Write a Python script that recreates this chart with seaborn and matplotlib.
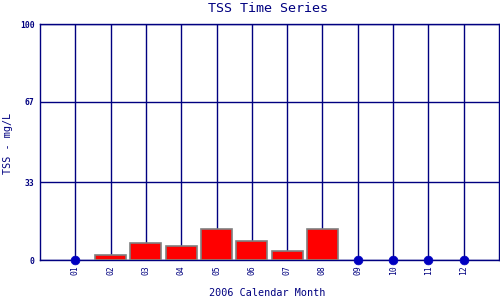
import matplotlib
matplotlib.use("Agg")
import matplotlib.pyplot as plt
import seaborn as sns
import pandas as pd

months = [2, 3, 4, 5, 6, 7, 8]
tss = [2.1, 7.0, 5.9, 13.0, 7.9, 3.7, 13.0]
zero_months = [1, 9, 10, 11, 12]
zero_vals = [0, 0, 0, 0, 0]
tick_labels = ["01", "02", "03", "04", "05", "06", "07", "08", "09", "10", "11", "12"]
y_ticks = [0, 33, 67, 100]

navy = "#000080"
sns.set_style("white")
plt.rcParams['font.family'] = ['DejaVu Sans Mono', 'DejaVu Sans']

fig = plt.figure(figsize=(5, 3), dpi=100)
ax = fig.add_axes([0.08, 0.1333, 0.918, 0.7867])

bars = pd.DataFrame({"month": months, "tss": tss})
sns.barplot(data=bars, x="month", y="tss", native_scale=True, width=0.88,
            color="#ff0000", saturation=1, edgecolor="#808080", linewidth=1.2,
            ax=ax, zorder=3)
zeros = pd.DataFrame({"month": zero_months, "tss": zero_vals})
sns.scatterplot(data=zeros, x="month", y="tss", color="#0000c0", s=40,
                edgecolor="#0000c0", ax=ax, zorder=4, clip_on=False)

ax.set_xlim(0, 13)
ax.set_ylim(0, 100)
ax.set_xticks(range(1, 13))
ax.set_xticklabels(tick_labels, rotation=90, fontsize=5.8, color=navy)
ax.set_yticks(y_ticks)
ax.set_yticklabels([str(v) for v in y_ticks], fontsize=5.8, color=navy, fontweight="bold")
ax.tick_params(length=0, pad=4)
ax.grid(True, color=navy, linewidth=1)
ax.set_axisbelow(True)
for s in ax.spines.values():
    s.set_color(navy)
    s.set_linewidth(1)
    s.set_visible(True)

ax.set_xlabel("")
ax.set_ylabel("")
fig.text(0.535, 0.973, "TSS Time Series", color=navy, fontsize=9.6,
         ha="center", va="center")
fig.text(0.535, 0.022, "2006 Calendar Month", color=navy, fontsize=7.3,
         ha="center", va="center")
fig.text(0.016, 0.523, "TSS - mg/L", color=navy, fontsize=7.3,
         ha="center", va="center", rotation=90)

fig.savefig("out.png", dpi=100)
